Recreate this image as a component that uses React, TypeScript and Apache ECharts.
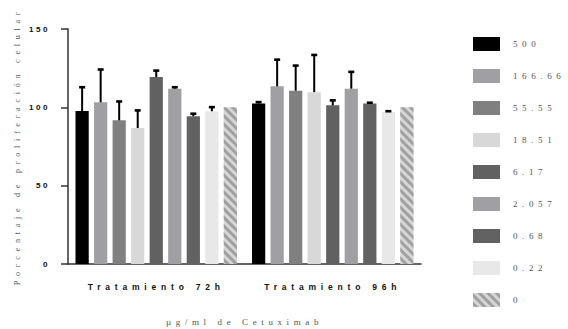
import React, { useEffect, useRef } from "react";
import * as echarts from "echarts";

const categories = ["Tratamiento 72h", "Tratamiento 96h"];
const doses = ["500", "166.66", "55.55", "18.51", "6.17", "2.057", "0.68", "0.22", "0"];
const colors = ["#000000", "#a0a0a4", "#808080", "#d8d8d8", "#616161", "#a0a0a4", "#626262", "#e8e8e8", "#d6d6d6"];
const means72 = [97.6, 103.2, 91.7, 86.8, 119.3, 111.9, 94.3, 97.5, 100];
const sd72 = [15.3, 21.0, 12.1, 11.3, 4.2, 1.0, 1.7, 2.7, 0];
const means96 = [102.4, 113.4, 110.6, 109.7, 101.3, 111.9, 102.4, 97.0, 100];
const sd96 = [1.0, 17.1, 16.1, 23.8, 3.2, 10.8, 0.6, 0.6, 0];
const yTicks = [0, 50, 100, 150];

const CAT_GAP = 0.085;
const BAR_GAP = 0.4;

export default function App() {
  const ref = useRef<HTMLDivElement>(null);
  useEffect(() => {
    if (!ref.current) return;
    const chart = echarts.init(ref.current, undefined, { renderer: "svg" });
    const n = doses.length;
    const barSeries = doses.map((name, i) => ({
      name,
      type: "bar",
      data: [means72[i], means96[i]],
      barCategoryGap: CAT_GAP * 100 + "%",
      barGap: BAR_GAP * 100 + "%",
      itemStyle: {
        color: colors[i],
        ...(name === "0"
          ? {
              decal: {
                symbol: "rect",
                symbolSize: 1,
                dashArrayX: [1, 0],
                dashArrayY: [3, 3],
                rotation: Math.PI / 4,
                color: "#a0a0a0",
              },
            }
          : {}),
      },
    }));
    const errData: number[][] = [];
    doses.forEach((_, i) => {
      if (sd72[i] > 0) errData.push([0, means72[i] + sd72[i], i, means72[i]]);
      if (sd96[i] > 0) errData.push([1, means96[i] + sd96[i], i, means96[i]]);
    });
    const errSeries = {
      type: "custom",
      name: "err",
      data: errData,
      encode: { x: 0, y: 1 },
      z: 5,
      renderItem: (params: any, api: any) => {
        const cat = api.value(0);
        const top = api.value(1);
        const si = api.value(2);
        const mean = api.value(3);
        const band = api.size([1, 0])[0];
        const rem = band - band * CAT_GAP;
        const bw = rem / (n + (n - 1) * BAR_GAP);
        const center = api.coord([cat, 0])[0];
        const x = center - rem / 2 + si * bw * (1 + BAR_GAP) + bw / 2;
        const yTop = api.coord([cat, top])[1];
        const yMean = api.coord([cat, mean])[1];
        return {
          type: "group",
          children: [
            {
              type: "line",
              shape: { x1: x, y1: yMean, x2: x, y2: yTop },
              style: { stroke: "#000", lineWidth: 2 },
            },
            {
              type: "rect",
              shape: { x: x - 3, y: yTop - 1.2, width: 6, height: 2.6 },
              style: { fill: "#000" },
            },
          ],
        };
      },
    };
    chart.setOption({
      animation: false,
      backgroundColor: "#ffffff",
      grid: { left: 68, right: 147, top: 29, bottom: 65, outerBoundsMode: "none", containLabel: false },
      legend: {
        data: doses,
        orient: "vertical",
        left: 473,
        top: 37,
        padding: 0,
        itemWidth: 27,
        itemHeight: 14,
        itemGap: 18,
        icon: "rect",
        textStyle: {
          fontFamily: "Liberation Serif",
          fontSize: 9,
          color: "#555",
          padding: [0, 0, 0, 8],
        },
      },
      xAxis: {
        type: "category",
        data: categories,
        axisLine: { lineStyle: { color: "#333", width: 1.5 } },
        axisTick: { alignWithLabel: true, length: 5, lineStyle: { color: "#333", width: 1.5 } },
        axisLabel: {
          fontFamily: "Liberation Sans",
          fontWeight: "bold",
          fontSize: 8.5,
          color: "#111",
          margin: 18,
        },
        name: "µg/ml de Cetuximab",
        nameLocation: "middle",
        nameGap: 53,
        nameTextStyle: { fontFamily: "Liberation Serif", fontSize: 9, color: "#555" },
      },
      yAxis: {
        type: "value",
        min: yTicks[0],
        max: yTicks[yTicks.length - 1],
        interval: 50,
        axisLine: { show: true, lineStyle: { color: "#333", width: 1.5 } },
        axisTick: { show: true, length: 7, lineStyle: { color: "#333", width: 1.5 } },
        splitLine: { show: false },
        axisLabel: {
          fontFamily: "Liberation Sans",
          fontWeight: "bold",
          fontSize: 8.1,
          color: "#111",
          margin: 18,
        },
        name: "Porcentaje de proliferación celular",
        nameLocation: "middle",
        nameGap: 47,
        nameTextStyle: { fontFamily: "Liberation Serif", fontSize: 8.2, color: "#555" },
      },
      series: [...barSeries, errSeries],
    });
    return () => chart.dispose();
  }, []);
  return (
    <>
      <style>{`
        body { margin: 0; }
        #chart svg text { letter-spacing: 4.6px; }
        #chart svg text[style*="8.1px"] { letter-spacing: 2.5px; }
        #chart svg text[style*="8.5px"] { letter-spacing: 4.8px; }
        #chart svg text[style*="8.2px"] { letter-spacing: 4.7px; }
      `}</style>
      <div id="chart" ref={ref} style={{ width: 568, height: 329 }} />
    </>
  );
}
